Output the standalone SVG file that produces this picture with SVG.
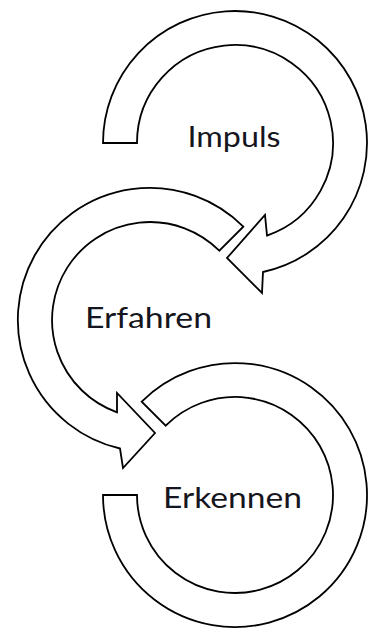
<svg xmlns="http://www.w3.org/2000/svg" width="371" height="629" viewBox="0 0 371 629">
<style>
.arrow{fill:#fff;stroke:#000;stroke-width:1.8;stroke-linejoin:miter}
.lbl{font-family:Lato,"Open Sans","Liberation Sans",sans-serif;font-size:29px;fill:#151520;text-anchor:middle}
</style>
<rect width="371" height="629" fill="#fff"/>
<g id="connectors">
<path id="arc-impuls" class="arrow" d="M 103 143 A 132 132 0 1 1 263 272 L 262 293 L 227 258 L 265 215 L 267 235.6 A 98 98 0 1 0 137 143 Z"/>
<path id="arc-erfahren" class="arrow" d="M 243.3 226.7 A 132 132 0 1 0 120 448.5 L 123 468 L 155 433 L 117 393 L 117 412.3 A 98 98 0 1 1 219.3 250.7 Z"/>
<path id="arc-erkennen" class="arrow" d="M 103 495 A 132 132 0 1 0 141.7 401.7 L 165.7 425.7 A 98 98 0 1 1 137 495 Z"/>
</g>
<g id="node-impuls"><text class="lbl" x="234" y="147" textLength="93" lengthAdjust="spacingAndGlyphs">Impuls</text></g>
<g id="node-erfahren"><text class="lbl" x="148.5" y="328" textLength="127" lengthAdjust="spacingAndGlyphs">Erfahren</text></g>
<g id="node-erkennen"><text class="lbl" x="232.5" y="508" textLength="139" lengthAdjust="spacingAndGlyphs">Erkennen</text></g>
</svg>
